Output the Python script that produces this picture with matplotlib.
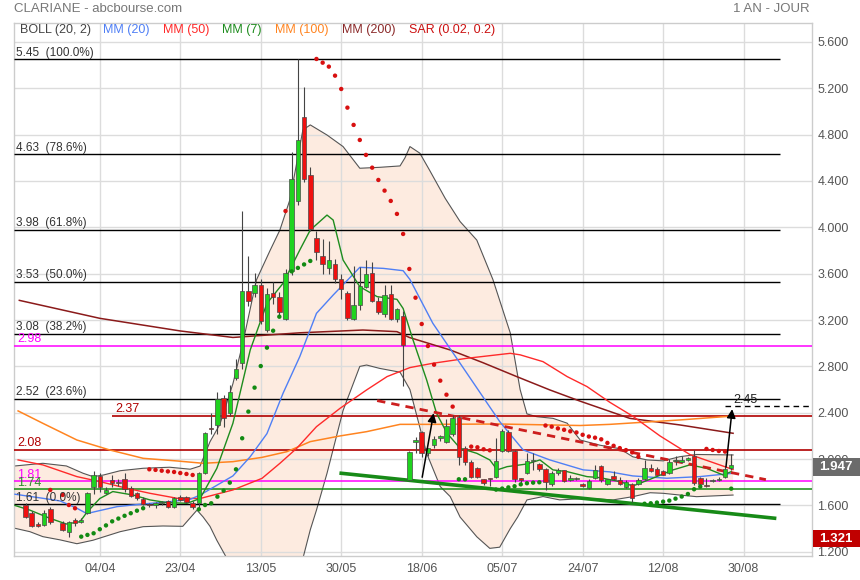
import numpy as np
import matplotlib.pyplot as plt
from matplotlib.patches import Rectangle

plt.rcParams['font.family'] = ['Liberation Sans', 'DejaVu Sans']

W, H = 860, 580

# trading days, day 0 = 04/04 (None = no candle)
days = np.arange(-12, 103)
opens = [1.605, 1.533, 1.438, 1.429, 1.570, None, 1.452, 1.375, 1.475, 1.460,
         1.539, 1.757, 1.855, 1.705, 1.820, 1.800, 1.826, 1.749, 1.705, 1.654,
         1.610, 1.605, 1.620, 1.639, 1.590, 1.677, 1.671, 1.625, 1.619, 1.884,
         2.272, 2.294, 2.525, 2.401, 2.697, 2.832, 3.453, 3.430, 3.503, 3.115,
         3.437, 3.397, 3.207, 3.627, 4.228, 4.950, 4.452, 3.906, 3.753, 3.647,
         3.681, 3.552, 3.431, 3.207, 3.330, 3.489, 3.604, 3.365, 3.253, 3.425,
         3.207, 3.236, 1.820, 2.145, 2.232, 2.050, 2.122, 2.180, 2.151, 2.214,
         2.367, 2.094, 1.978, 1.921, 1.826, 1.830, 1.849, 2.073, 2.232, 2.071,
         1.835, 1.878, 1.985, 1.958, 1.912, 1.786, 1.878, 1.907, 1.820, 1.830,
         1.786, 1.748, 1.835, 1.941, 1.786, 1.855, 1.820, 1.757, 1.786, 1.786,
         1.826, 1.921, 1.912, 1.900, 1.878, 1.985, 1.978, 1.990, 2.027, 1.835,
         1.777, 1.811, 1.820, 1.849, 1.921]
highs = [1.62, 1.55, 1.46, 1.56, 1.59, None, 1.47, 1.47, 1.49, 1.49,
         1.72, 1.90, 1.88, 1.76, 1.86, 1.83, 1.88, 1.77, 1.72, 1.67,
         1.62, 1.63, 1.64, 1.65, 1.67, 1.69, 1.68, 1.64, 1.89, 2.23,
         2.40, 2.58, 2.55, 2.64, 2.86, 4.14, 3.75, 3.61, 3.55, 3.48,
         3.53, 3.44, 3.64, 4.65, 5.45, 5.21, 4.52, 3.97, 3.90, 3.88,
         3.73, 3.60, 3.45, 3.67, 3.66, 3.72, 3.70, 3.40, 3.50, 3.50,
         3.30, 3.28, 2.07, 2.19, 2.24, 2.10, 2.20, 2.21, 2.35, 2.38,
         2.38, 2.11, 1.99, 1.93, 1.83, 1.84, 2.18, 2.26, 2.25, 2.08,
         1.84, 2.05, 2.05, 1.97, 1.92, 1.90, 1.92, 1.91, 1.86, 1.85,
         1.79, 1.83, 1.95, 1.95, 1.83, 1.90, 1.85, 1.82, 1.79, 1.84,
         1.99, 1.96, 1.93, 1.91, 2.00, 2.03, 2.03, 2.02, 2.08, 1.85,
         1.84, 1.83, 1.85, 1.93, 2.04]
lows = [1.49, 1.41, 1.41, 1.42, 1.44, None, 1.38, 1.33, 1.42, 1.45,
        1.53, 1.70, 1.72, 1.70, 1.76, 1.77, 1.72, 1.67, 1.65, 1.60,
        1.59, 1.58, 1.60, 1.58, 1.58, 1.64, 1.62, 1.57, 1.58, 1.87,
        2.22, 2.22, 2.28, 2.37, 2.68, 2.78, 3.32, 3.40, 3.17, 3.10,
        3.34, 3.23, 3.20, 3.59, 4.19, 4.39, 3.97, 3.72, 3.60, 3.60,
        3.52, 3.38, 3.20, 3.20, 3.29, 3.48, 3.36, 3.25, 3.23, 3.20,
        3.18, 2.63, 1.81, 2.05, 2.02, 2.03, 2.10, 2.16, 2.14, 2.20,
        1.95, 1.95, 1.84, 1.84, 1.78, 1.77, 1.84, 2.06, 2.06, 1.80,
        1.79, 1.87, 1.91, 1.90, 1.73, 1.77, 1.86, 1.80, 1.81, 1.82,
        1.76, 1.74, 1.83, 1.80, 1.78, 1.82, 1.78, 1.75, 1.63, 1.78,
        1.82, 1.89, 1.86, 1.86, 1.87, 1.95, 1.97, 1.98, 1.78, 1.77,
        1.76, 1.80, 1.81, 1.84, 1.91]
closes = [1.504, 1.424, 1.424, 1.539, 1.461, None, 1.389, 1.455, 1.447, 1.475,
          1.711, 1.864, 1.763, 1.734, 1.797, 1.790, 1.740, 1.682, 1.662, 1.613,
          1.602, 1.618, 1.625, 1.590, 1.662, 1.648, 1.634, 1.585, 1.884, 2.223,
          2.258, 2.516, 2.352, 2.582, 2.775, 3.453, 3.367, 3.503, 3.195, 3.425,
          3.397, 3.273, 3.604, 4.415, 4.754, 4.415, 3.983, 3.791, 3.681, 3.719,
          3.552, 3.466, 3.215, 3.330, 3.495, 3.595, 3.368, 3.273, 3.417, 3.207,
          3.293, 2.985, 2.059, 2.165, 2.056, 2.094, 2.172, 2.200, 2.286, 2.352,
          2.022, 1.978, 1.843, 1.849, 1.791, 1.826, 1.984, 2.243, 2.073, 1.829,
          1.820, 1.987, 1.995, 1.912, 1.800, 1.884, 1.907, 1.815, 1.840, 1.840,
          1.770, 1.814, 1.907, 1.820, 1.826, 1.826, 1.786, 1.806, 1.662, 1.820,
          1.921, 1.900, 1.863, 1.863, 1.978, 1.990, 1.993, 2.013, 1.791, 1.786,
          1.768, 1.820, 1.826, 1.912, 1.947]
sar = [None, None, None, None, 1.734, None, 1.691, 1.604, 1.576, 1.331,
       1.346, 1.360, 1.395, 1.428, 1.463, 1.487, 1.511, 1.533, 1.555, 1.576,
       1.912, 1.907, 1.900, 1.894, 1.889, 1.880, 1.872, 1.863, 1.567, 1.604,
       1.619, 1.676, 1.728, 1.797, 1.912, 2.180, 2.410, 2.617, 2.803, 2.962,
       3.108, 3.229, 4.141, 3.620, 3.650, 3.680, 3.710, 5.453, 5.421, 5.387,
       5.309, 5.194, 5.033, 4.884, 4.754, 4.625, 4.515, 4.409, 4.317, 4.228,
       4.116, 3.943, 3.641, 3.393, 3.166, 2.976, 2.815, 2.677, 2.556, 2.453,
       1.826, 1.826, 2.108, 2.102, 2.085, 2.076, 1.737, 1.746, 1.756, 1.766,
       1.782, 1.792, 1.797, 1.800, 2.290, 2.280, 2.265, 2.253, 2.240, 2.230,
       2.210, 2.195, 2.185, 2.171, 2.140, 2.115, 2.095, 2.078, 2.058, 2.020,
       1.615, 1.619, 1.625, 1.633, 1.642, 1.659, 1.677, 1.699, 1.740, 1.763,
       2.088, 2.079, 2.070, 2.065, 1.745]

# moving averages (day position, value)
mm7_day = [-13.7, -11.3, -8.1, -5.4, -3.2, -2.1, 0, 2.1, 5.4, 8.1, 10.8, 14.1, 16.2, 18.9,
           21.5, 24.3, 27, 29.6, 32.3, 34, 36.7, 37.7, 39.3, 42, 44.8, 48, 49, 50.6, 52.8,
           54.4, 56.1, 58.2, 60.9, 63, 64.2, 65.8, 69, 71.1, 73.2, 75.5, 78.7, 80.8, 84,
           86.1, 88.9, 92.6, 95.3, 98, 100.7, 102]
mm7_val = [1.60, 1.56, 1.49, 1.44, 1.46, 1.54, 1.66, 1.72, 1.69, 1.648, 1.625, 1.619, 1.66,
           1.92, 2.309, 2.942, 3.344, 3.517, 3.804, 3.977, 4.106, 4.063, 3.718, 3.488, 3.402,
           3.379, 3.30, 3.028, 2.683, 2.395, 2.223, 2.094, 2.05, 1.993, 1.907, 1.935, 1.958,
           1.993, 1.907, 1.892, 1.849, 1.84, 1.806, 1.768, 1.826, 1.907, 1.95, 1.921, 1.863,
           1.892]
mm20_day = [-13.7, -9.2, -6.4, -3.7, -2.1, -0.5, 2.8, 7, 11.3, 14.6, 16.2, 21.5, 24.3, 27,
            29.6, 32.3, 35, 37.7, 42, 45.8, 49, 50.1, 53.8, 59.3, 64.6, 68.4, 72.7, 78.1,
            82.4, 86.1, 91.6, 96.9, 102.3]
mm20_val = [1.697, 1.662, 1.639, 1.576, 1.53, 1.55, 1.59, 1.613, 1.633, 1.653, 1.69, 1.855,
            2.021, 2.22, 2.568, 2.884, 3.258, 3.416, 3.655, 3.646, 3.626, 3.55, 3.172, 2.741,
            2.324, 2.079, 1.993, 1.907, 1.89, 1.855, 1.835, 1.849, 1.878]
mm50_day = [-13.2, -9.2, -3.7, 0, 4.4, 8.1, 12.5, 16.2, 21.5, 26.2, 29.1, 31.8, 35, 38.8,
            43.1, 46.4, 50.1, 53.8, 59.3, 66.3, 67.9, 71.6, 75.5, 78.7, 82.4, 86.1, 90.5,
            95.3, 102.3]
mm50_val = [1.993, 1.95, 1.849, 1.806, 1.748, 1.705, 1.662, 1.66, 1.734, 1.834, 1.964, 2.093,
            2.28, 2.438, 2.597, 2.712, 2.79, 2.827, 2.87, 2.913, 2.90, 2.841, 2.712, 2.626,
            2.49, 2.37, 2.20, 2.04, 1.91]
mm100_day = [-13.2, -9.2, -3.7, 1.6, 7, 12.5, 16.7, 21.5, 26.2, 30.2, 34, 38.8, 43.1, 48.5,
             53.3, 64.6, 77.6, 82.4, 93.7, 102.3]
mm100_val = [2.416, 2.309, 2.165, 2.079, 2.007, 1.984, 1.964, 1.978, 2.015, 2.064, 2.151,
             2.20, 2.237, 2.30, 2.30, 2.303, 2.29, 2.30, 2.338, 2.372]
mm200_day = [-13, 0, 13, 21.5, 32.3, 42.5, 48, 50, 56.6, 61.9, 67.4, 72.7, 77.6, 85.6, 93.7,
             102.3]
mm200_val = [3.37, 3.215, 3.106, 3.05, 3.09, 3.114, 3.10, 3.05, 2.942, 2.832, 2.711, 2.597,
             2.50, 2.352, 2.295, 2.223]

# bollinger (20, 2)
boll_up_day = [-13.7, -9.2, -5.4, -2.7, -1.1, 0.6, 3.3, 7, 11.3, 14.6, 16.2, 17.8, 19.4, 21.5,
               23.1, 25.3, 27.5, 29.1, 30.7, 32.8, 34, 36.7, 39.3, 42, 45.2, 48.5, 49.3, 50.1,
               51.7, 53.2, 55.8, 58.2, 60.9, 63.5, 66.3, 67.9, 69, 70.6, 73.2, 75.5, 77.6,
               80.8, 84, 86.1, 88.4, 91, 93.7, 96.4, 102.3]
boll_up_val = [1.941, 1.964, 1.941, 1.878, 1.849, 1.863, 1.90, 1.921, 1.93, 1.913, 1.94, 2.15,
               2.30, 2.65, 3.0, 3.546, 3.80, 3.978, 4.237, 4.84, 4.884, 4.797, 4.697, 4.51,
               4.518, 4.53, 4.6, 4.697, 4.64, 4.50, 4.25, 4.05, 3.89, 3.55, 3.09, 2.60, 2.39,
               2.366, 2.352, 2.31, 2.165, 2.12, 2.09, 2.02, 1.993, 1.985, 2.021, 2.04, 2.036]
boll_low_day = [-13.7, -11.3, -9.2, -6.4, -3.7, -1.1, 3.3, 7, 10.2, 13.4, 15.7, 16.7, 17.8,
                18.9, 21.5, 24.3, 27.5, 30.7, 32.6, 34, 35, 36.7, 39.3, 42, 43.1, 45.2, 48.5,
                50.1, 52.8, 55, 56.6, 58.2, 60.9, 63, 64.6, 66.3, 67.5, 69, 71.6, 74.3, 78.7,
                82.9, 86.1, 88.9, 91, 93.7, 96.4, 102.3]
boll_low_val = [1.403, 1.374, 1.331, 1.303, 1.27, 1.30, 1.374, 1.417, 1.423, 1.42, 1.56, 1.50,
                1.42, 1.30, 1.05, 0.8, 0.6, 0.7, 1.10, 1.39, 1.56, 1.877, 2.42, 2.80, 2.812,
                2.783, 2.75, 2.60, 2.05, 1.763, 1.677, 1.50, 1.33, 1.23, 1.24, 1.40, 1.50,
                1.648, 1.677, 1.648, 1.662, 1.648, 1.676, 1.71, 1.705, 1.69, 1.676, 1.69]

# fibonacci retracement levels
fib_levels = [5.45, 4.63, 3.98, 3.53, 3.08, 2.52, 1.61]
fib_labels = ['5.45  (100.0%)', '4.63  (78.6%)', '3.98  (61.8%)', '3.53  (50.0%)',
              '3.08  (38.2%)', '2.52  (23.6%)', '1.61  (0.0%)']

tick_days = [0, 13, 26, 39, 52, 65, 78, 91, 104]
tick_labels = ['04/04', '23/04', '13/05', '30/05', '18/06', '05/07', '24/07', '12/08', '30/08']
price_ticks = [5.6, 5.2, 4.8, 4.4, 4.0, 3.6, 3.2, 2.8, 2.4, 2.0, 1.6, 1.2]

last_price = 1.947
low_price = 1.321


def px(x, y):
    return x / W, 1 - y / H


fig = plt.figure(figsize=(W / 100, H / 100), dpi=100)
ax = fig.add_axes([14 / W, 24 / H, 797.7 / W, 533.3 / H])
x0, x1 = -13.86, 115.0
ax.set_xlim(x0, x1)
ax.set_ylim(1.164, 5.766)

# bollinger band
band_x = np.concatenate([boll_up_day, boll_low_day[::-1]])
band_y = np.concatenate([boll_up_val, boll_low_val[::-1]])
ax.fill(band_x, band_y, color='#FDEBE0', zorder=0.5, lw=0)
ax.plot(boll_up_day, boll_up_val, color='#555555', lw=0.8, zorder=2)
ax.plot(boll_low_day, boll_low_val, color='#555555', lw=0.8, zorder=2)

# grid
for t in tick_days:
    ax.axvline(t, color='#DCDCDC', lw=1, zorder=1)
for p in price_ticks:
    ax.axhline(p, color='#DCDCDC', lw=1, zorder=1)

# horizontal levels
for lev, lab in zip(fib_levels, fib_labels):
    ax.hlines(lev, x0, 109.9, color='black', lw=1, zorder=3)
    ax.text(-13.5, lev + 0.005, lab, fontsize=8.5, color='#333333', va='bottom', zorder=7)
ax.hlines(2.98, x0, x1, color='#FF00FF', lw=1.1, zorder=3)
ax.text(-13.3, 2.985, '2.98', fontsize=9, color='#FF00FF', va='bottom')
ax.hlines(1.81, x0, x1, color='#FF00FF', lw=1.1, zorder=3)
ax.text(-13.3, 1.815, '1.81', fontsize=9, color='#FF00FF', va='bottom')
ax.hlines(1.74, x0, x1, color='#138A13', lw=1.1, zorder=3)
ax.text(-13.3, 1.745, '1.74', fontsize=9, color='#2E8B2E', va='bottom')
ax.hlines(2.08, x0, x1, color='#B00000', lw=1.2, zorder=3)
ax.text(-13.3, 2.09, '2.08', fontsize=9, color='#B00000', va='bottom')
ax.hlines(2.37, 1.9, x1, color='#B00000', lw=1.2, zorder=3)
ax.text(2.5, 2.38, '2.37', fontsize=9, color='#B00000', va='bottom')
ax.hlines(2.455, 101.0, x1, color='black', lw=1, linestyles=(0, (4, 3)), zorder=3)
ax.text(102.4, 2.462, '2.45', fontsize=9, color='#222222', va='bottom')

# moving averages
ax.plot(mm200_day, mm200_val, color='#8B1A1A', lw=1.1, zorder=3)
ax.plot(mm100_day, mm100_val, color='#FF8420', lw=1.1, zorder=3)
ax.plot(mm50_day, mm50_val, color='#FF2A2A', lw=1, zorder=3)
ax.plot(mm20_day, mm20_val, color='#4F7FF5', lw=1, zorder=3)
ax.plot(mm7_day, mm7_val, color='#1E8C1E', lw=1, zorder=3)

# trend lines
ax.plot([39, 109], [1.878, 1.49], color='#178A17', lw=2.6, zorder=3.5)
ax.plot([44.8, 107.6], [2.505, 1.823], color='#CC1E1E', lw=2, ls=(0, (3, 2.2)), zorder=3.5)

# candles
o = np.array(opens, dtype=float)
h = np.array(highs, dtype=float)
l = np.array(lows, dtype=float)
c = np.array(closes, dtype=float)
ok = ~np.isnan(o)
ax.vlines(days[ok], l[ok], h[ok], color='#444444', lw=0.8, zorder=4)
body_col = np.where(c[ok] >= o[ok], '#1FD31F', '#F01010')
ax.bar(days[ok], np.maximum(np.abs(c[ok] - o[ok]), 0.01), bottom=np.minimum(o[ok], c[ok]),
       width=0.72, color=body_col, edgecolor='#4A4A4A', linewidth=0.5, zorder=5)

# parabolic SAR
s = np.array(sar, dtype=float)
sk = ~np.isnan(s)
c_fill = np.where(np.isnan(c), s, c)
sar_col = np.where(s[sk] > c_fill[sk], '#D81010', '#128A12')
ax.scatter(days[sk], s[sk], s=10, c=sar_col, lw=0, zorder=6)

# arrows
ax.annotate('', xy=(54.0, 2.42), xytext=(52.0, 1.82),
            arrowprops=dict(arrowstyle='-|>', color='black', lw=1.1, mutation_scale=13), zorder=7)
ax.annotate('', xy=(102.2, 2.455), xytext=(101.1, 1.907),
            arrowprops=dict(arrowstyle='-|>', color='black', lw=1.1, mutation_scale=13), zorder=7)

# axes styling
ax.set_xticks(tick_days)
ax.set_xticklabels(tick_labels)
ax.set_yticks(price_ticks)
ax.set_yticklabels(['%.3f' % p for p in price_ticks])
ax.yaxis.tick_right()
ax.tick_params(axis='x', length=0, pad=5, labelsize=9, labelcolor='#555555')
ax.tick_params(axis='y', length=0, pad=4, labelsize=9, labelcolor='#555555')
for sp in ax.spines.values():
    sp.set_color('#CCCCCC')
    sp.set_linewidth(1)

# header and legend
fig.text(*px(14, 9), 'CLARIANE - abcbourse.com', fontsize=9.5, color='#777777', va='center')
fig.text(*px(810, 9), '1 AN - JOUR', fontsize=9.5, color='#777777', va='center', ha='right')
legend = [('BOLL (20, 2)', '#444444', 20), ('MM (20)', '#4F7FF5', 103),
          ('MM (50)', '#FF2A2A', 163), ('MM (7)', '#1E8C1E', 222),
          ('MM (100)', '#FF8420', 275), ('MM (200)', '#8B2A2A', 342),
          ('SAR (0.02, 0.2)', '#CC1010', 409)]
for txt, col, xx in legend:
    fig.text(*px(xx, 29.5), txt, fontsize=9, color=col, va='center')

# value tags on the right
fig.add_artist(Rectangle(px(813, 476), 47 / W, 18 / H, transform=fig.transFigure,
                         color='#6B6B6B', lw=0))
fig.text(*px(836, 467), '%.3f' % last_price, fontsize=9.5, color='white', fontweight='bold',
         ha='center', va='center')
fig.add_artist(Rectangle(px(813, 547), 47 / W, 17 / H, transform=fig.transFigure,
                         color='#C00000', lw=0))
fig.text(*px(836, 538.5), '%.3f' % low_price, fontsize=9.5, color='white', fontweight='bold',
         ha='center', va='center')

fig.savefig('out.png', dpi=100)
